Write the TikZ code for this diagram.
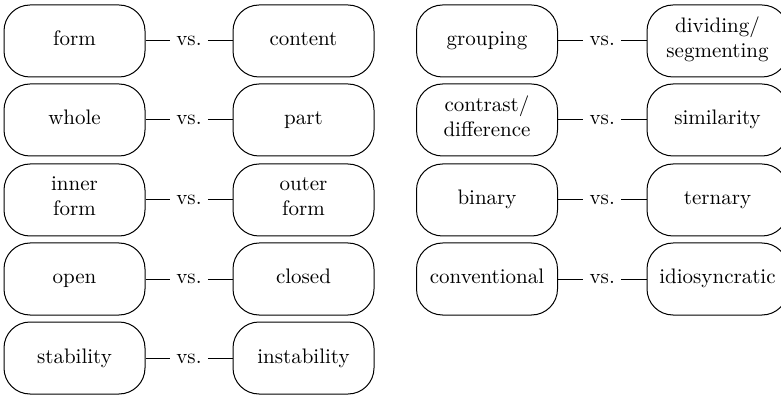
\documentclass[tikz,border=0pt]{standalone}
\usetikzlibrary{positioning}
\tikzset{
  pole/.style={draw, line width=0.5pt, rounded corners=13pt, minimum width=70.5pt,
    minimum height=36pt, inner sep=0pt, align=center,
    execute at begin node=\strut, execute at end node=\strut},
  versus/.style={inner sep=0pt, minimum width=18.5pt, execute at begin node=\strut}
}
\begin{document}
\begin{tikzpicture}[x=0.5pt, y=-0.5pt, line join=round, font=\fontsize{10.5}{12.5}\selectfont]
\useasboundingbox (0,0) rectangle (781,395);
\clip (0,0) rectangle (781,395);
% left column
\node[pole] (form)    at (74.5,41)  {form};
\node[pole] (content) at (303.5,41) {content};
\node[pole] (whole)   at (74.5,120)  {whole};
\node[pole] (part)    at (303.5,120) {part};
\node[pole] (inner)   at (74.5,200)  {inner\\form};
\node[pole] (outer)   at (303.5,200) {outer\\form};
\node[pole] (open)    at (74.5,279)  {open};
\node[pole] (closed)  at (303.5,279) {closed};
\node[pole] (stab)    at (74.5,358)  {stability};
\node[pole] (instab)  at (303.5,358) {instability};
% right column
\node[pole] (group)   at (487,41)  {grouping};
\node[pole] (divide)  at (717.5,41) {dividing/\\segmenting};
\node[pole] (contr)   at (487,120)  {contrast/\\difference};
\node[pole] (simil)   at (717.5,120) {similarity};
\node[pole] (binary)  at (487,200)  {binary};
\node[pole] (ternary) at (717.5,200) {ternary};
\node[pole] (conv)    at (487,279)  {conventional};
\node[pole] (idio)    at (717.5,279) {idiosyncratic};
% vs. links
\foreach \a/\b in {form/content, whole/part, inner/outer, open/closed, stab/instab,
                   group/divide, contr/simil, binary/ternary, conv/idio}{
  \path (\a.east) -- (\b.west) node[versus, pos=0.5] (vs-\a) {vs.};
  \draw[line width=0.5pt] (\a.east) -- (vs-\a.west);
  \draw[line width=0.5pt] (vs-\a.east) -- (\b.west);
}
\end{tikzpicture}
\end{document}
